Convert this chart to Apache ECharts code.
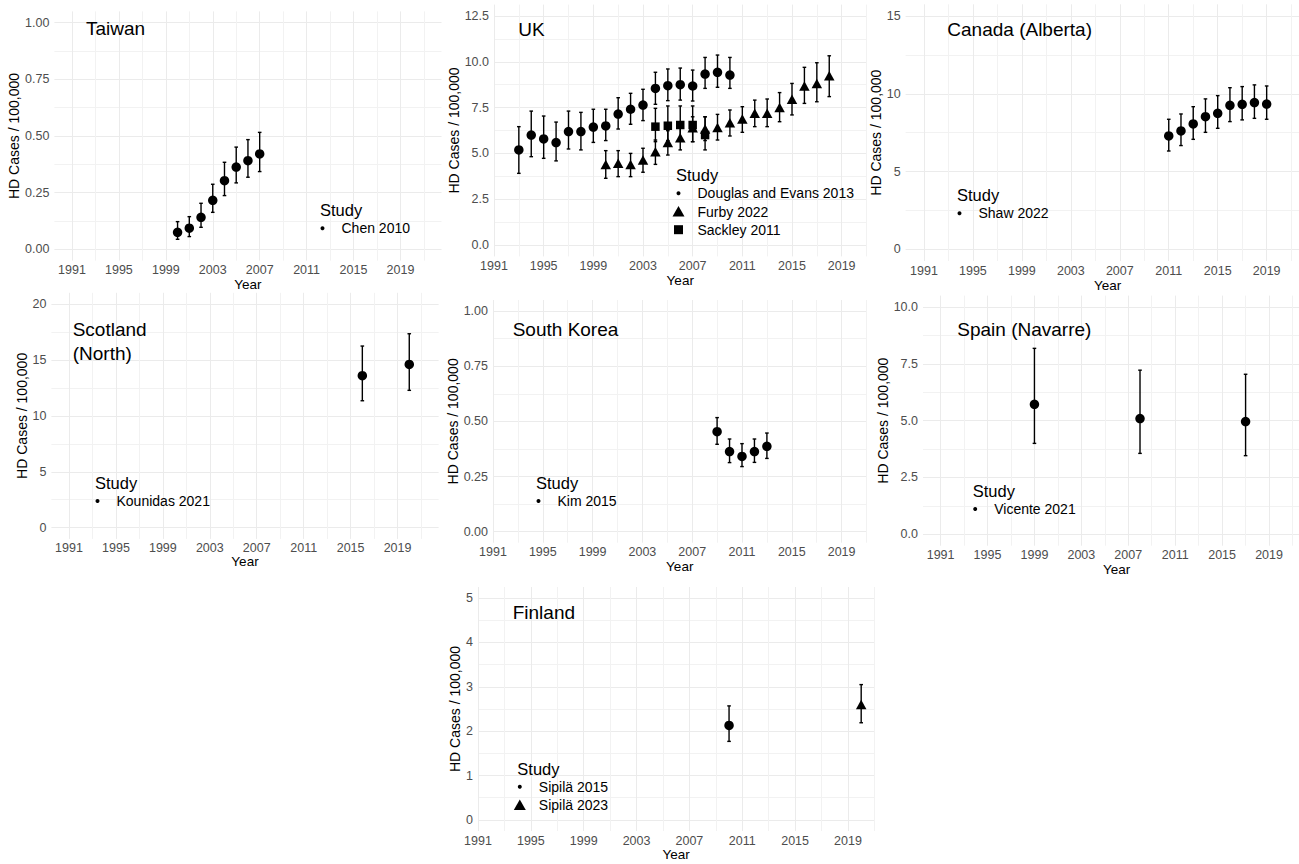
<!DOCTYPE html>
<html>
<head>
<meta charset="utf-8">
<script src="https://cdn.jsdelivr.net/npm/echarts@6/dist/echarts.min.js"></script>
<style>
html,body{margin:0;padding:0;background:#ffffff;}
#chart{width:1299px;height:864px;}
</style>
</head>
<body>
<div id="chart"></div>
<script>
// ---------------- data ----------------
const yearTicks = [1991, 1995, 1999, 2003, 2007, 2011, 2015, 2019];
const yearMinorTicks = [1989, 1993, 1997, 2001, 2005, 2009, 2013, 2017, 2021];

const taiwanYTicks = [0, 0.25, 0.5, 0.75, 1];
const ukYTicks = [0, 2.5, 5, 7.5, 10, 12.5];
const canadaYTicks = [0, 5, 10, 15];
const scotlandYTicks = [0, 5, 10, 15, 20];
const koreaYTicks = [0, 0.25, 0.5, 0.75, 1];
const spainYTicks = [0, 2.5, 5, 7.5, 10];
const finlandYTicks = [0, 1, 2, 3, 4, 5];

// Taiwan - Chen 2010
const chenYears = [2000, 2001, 2002, 2003, 2004, 2005, 2006, 2007];
const chenRate  = [0.075, 0.093, 0.141, 0.216, 0.303, 0.363, 0.391, 0.421];
const chenLow   = [0.044, 0.056, 0.097, 0.163, 0.237, 0.293, 0.318, 0.343];
const chenHigh  = [0.122, 0.144, 0.203, 0.287, 0.384, 0.451, 0.484, 0.516];

// UK - Douglas and Evans 2013
const douglasYears = [1993, 1994, 1995, 1996, 1997, 1998, 1999, 2000, 2001, 2002, 2003, 2004, 2005, 2006, 2007, 2008, 2009, 2010];
const douglasRate  = [5.19, 6.00, 5.79, 5.59, 6.19, 6.19, 6.44, 6.50, 7.15, 7.41, 7.64, 8.55, 8.70, 8.75, 8.68, 9.33, 9.43, 9.28];
const douglasLow   = [3.91, 4.82, 4.73, 4.59, 5.24, 5.19, 5.60, 5.70, 6.33, 6.59, 6.79, 7.68, 7.88, 7.91, 7.86, 8.55, 8.61, 8.55];
const douglasHigh  = [6.46, 7.31, 7.04, 6.71, 7.31, 7.24, 7.41, 7.41, 8.04, 8.28, 8.50, 9.43, 9.61, 9.66, 9.55, 10.24, 10.37, 10.24];

// UK - Furby 2022
const furbyYears = [2000, 2001, 2002, 2003, 2004, 2005, 2006, 2007, 2008, 2009, 2010, 2011, 2012, 2013, 2014, 2015, 2016, 2017, 2018];
const furbyRate  = [4.40, 4.46, 4.39, 4.64, 5.09, 5.59, 5.86, 6.40, 6.33, 6.42, 6.68, 6.88, 7.19, 7.19, 7.51, 7.95, 8.68, 8.82, 9.24];
const furbyLow   = [3.64, 3.73, 3.73, 3.97, 4.40, 4.91, 5.19, 5.64, 5.70, 5.73, 5.95, 6.15, 6.46, 6.46, 6.73, 7.10, 7.73, 7.82, 8.10];
const furbyHigh  = [5.15, 5.15, 5.00, 5.28, 5.73, 6.24, 6.50, 7.00, 7.00, 7.13, 7.37, 7.55, 7.91, 7.97, 8.32, 8.82, 9.70, 9.95, 10.33];

// UK - Sackley 2011
const sackleyYears = [2004, 2005, 2006, 2007, 2008];
const sackleyRate  = [6.46, 6.51, 6.55, 6.55, 6.00];
const sackleyLow   = [5.64, 5.70, 5.73, 5.64, 5.19];
const sackleyHigh  = [7.46, 7.59, 7.59, 7.59, 7.00];

// Canada (Alberta) - Shaw 2022
const shawYears = [2011, 2012, 2013, 2014, 2015, 2016, 2017, 2018, 2019];
const shawRate  = [7.29, 7.61, 8.06, 8.53, 8.74, 9.26, 9.32, 9.43, 9.34];
const shawLow   = [6.32, 6.67, 7.07, 7.52, 7.78, 8.21, 8.32, 8.42, 8.36];
const shawHigh  = [8.36, 8.70, 9.17, 9.67, 9.88, 10.39, 10.46, 10.57, 10.50];

// Scotland (North) - Kounidas 2021
const kounidasYears = [2016, 2020];
const kounidasRate  = [13.59, 14.60];
const kounidasLow   = [11.35, 12.28];
const kounidasHigh  = [16.24, 17.34];

// South Korea - Kim 2015
const kimYears = [2009, 2010, 2011, 2012, 2013];
const kimRate  = [0.453, 0.363, 0.341, 0.363, 0.387];
const kimLow   = [0.396, 0.313, 0.295, 0.314, 0.332];
const kimHigh  = [0.517, 0.420, 0.399, 0.420, 0.447];

// Spain (Navarre) - Vicente 2021
const vicenteYears = [1999, 2008, 2017];
const vicenteRate  = [5.72, 5.09, 4.96];
const vicenteLow   = [4.00, 3.56, 3.46];
const vicenteHigh  = [8.18, 7.22, 7.04];

// Finland - Sipilä 2015 / Sipilä 2023
const sipila2015Years = [2010];
const sipila2015Rate  = [2.13];
const sipila2015Low   = [1.77];
const sipila2015High  = [2.57];
const sipila2023Years = [2020];
const sipila2023Rate  = [2.60];
const sipila2023Low   = [2.19];
const sipila2023High  = [3.05];

// ---------------- panels ----------------
const panels = [
  {key: 'taiwan', lines: ['Taiwan'], yTicks: taiwanYTicks, dec: 2, studies: [
    {name: 'Chen 2010', shape: 'circle', years: chenYears, rate: chenRate, low: chenLow, high: chenHigh}]},
  {key: 'uk', lines: ['UK'], yTicks: ukYTicks, dec: 1, studies: [
    {name: 'Douglas and Evans 2013', shape: 'circle', years: douglasYears, rate: douglasRate, low: douglasLow, high: douglasHigh},
    {name: 'Furby 2022', shape: 'triangle', years: furbyYears, rate: furbyRate, low: furbyLow, high: furbyHigh},
    {name: 'Sackley 2011', shape: 'square', years: sackleyYears, rate: sackleyRate, low: sackleyLow, high: sackleyHigh}]},
  {key: 'canada', lines: ['Canada (Alberta)'], yTicks: canadaYTicks, dec: 0, studies: [
    {name: 'Shaw 2022', shape: 'circle', years: shawYears, rate: shawRate, low: shawLow, high: shawHigh}]},
  {key: 'scotland', lines: ['Scotland', '(North)'], yTicks: scotlandYTicks, dec: 0, studies: [
    {name: 'Kounidas 2021', shape: 'circle', years: kounidasYears, rate: kounidasRate, low: kounidasLow, high: kounidasHigh}]},
  {key: 'korea', lines: ['South Korea'], yTicks: koreaYTicks, dec: 2, studies: [
    {name: 'Kim 2015', shape: 'circle', years: kimYears, rate: kimRate, low: kimLow, high: kimHigh}]},
  {key: 'spain', lines: ['Spain (Navarre)'], yTicks: spainYTicks, dec: 1, studies: [
    {name: 'Vicente 2021', shape: 'circle', years: vicenteYears, rate: vicenteRate, low: vicenteLow, high: vicenteHigh}]},
  {key: 'finland', lines: ['Finland'], yTicks: finlandYTicks, dec: 0, studies: [
    {name: 'Sipilä 2015', shape: 'circle', years: sipila2015Years, rate: sipila2015Rate, low: sipila2015Low, high: sipila2015High},
    {name: 'Sipilä 2023', shape: 'triangle', years: sipila2023Years, rate: sipila2023Rate, low: sipila2023Low, high: sipila2023High}]}
];

// pixel layout of each panel (plot area), axis ranges, and annotation positions
const layout = {
  taiwan:   {left: 54.4,  top: 11.4,  right: 441.5,  bottom: 260.6, xMin: 1989.5, xMax: 2022.5, yMin: -0.05,  yMax: 1.05,   yNameGap: 26, xNameGap: 17, title: [86, 28.3],    legend: [320, 210]},
  uk:       {left: 494,   top: 4.6,   right: 866.5,  bottom: 256.4, xMin: 1991,   xMax: 2021,   yMin: -0.625, yMax: 13.125, yNameGap: 30, xNameGap: 17, title: [518.3, 29.3], legend: [676, 175]},
  canada:   {left: 905.6, top: 4.3,   right: 1309.5, bottom: 261,   xMin: 1989.5, xMax: 2022.5, yMin: -0.75,  yMax: 15.75,  yNameGap: 19, xNameGap: 17, title: [947.3, 29.3], legend: [957, 195]},
  scotland: {left: 51.4,  top: 292.8, right: 438.6,  bottom: 538.9, xMin: 1989.5, xMax: 2022.5, yMin: -1,     yMax: 21,     yNameGap: 22, xNameGap: 16, title: [72.7, 329.3], legend: [95, 482.7]},
  korea:    {left: 493,   top: 300,   right: 866.5,  bottom: 542.7, xMin: 1991,   xMax: 2021,   yMin: -0.05,  yMax: 1.05,   yNameGap: 28, xNameGap: 17, title: [512.7, 329.3], legend: [536, 482.7]},
  spain:    {left: 923,   top: 295.6, right: 1310.1, bottom: 545.7, xMin: 1989.5, xMax: 2022.5, yMin: -0.5,   yMax: 10.5,   yNameGap: 31, xNameGap: 17, title: [957.3, 329.3], legend: [972.7, 490.7]},
  finland:  {left: 478,   top: 587,   right: 874.4,  bottom: 831,   xMin: 1991,   xMax: 2021,   yMin: -0.25,  yMax: 5.25,   yNameGap: 12, xNameGap: 16, title: [512.7, 612.5], legend: [517.3, 768.5]}
};

const FONT = '"Liberation Sans", Arial, Helvetica, sans-serif';
const MAJOR = '#ebebeb';
const MINOR = '#f2f2f2';

function midpoints(t) {
  const m = [];
  for (let i = 0; i < t.length - 1; i++) m.push((t[i] + t[i + 1]) / 2);
  return m;
}

const grid = [], xAxis = [], yAxis = [], series = [], graphic = [];

panels.forEach((p, i) => {
  const L = layout[p.key];
  grid.push({left: L.left, top: L.top, width: L.right - L.left, height: L.bottom - L.top,
             containLabel: false, outerBoundsMode: 'none'});
  const xi = xAxis.length, yi = yAxis.length;
  const xMinor = yearMinorTicks.filter(v => v >= L.xMin && v <= L.xMax);
  const yMinor = midpoints(p.yTicks);

  xAxis.push({
    type: 'value', gridIndex: i, min: L.xMin, max: L.xMax, position: 'bottom',
    axisLine: {show: false},
    axisTick: {show: false, customValues: yearTicks},
    axisLabel: {customValues: yearTicks, margin: 3, color: '#4d4d4d', fontSize: 12.5, fontFamily: FONT,
                formatter: v => String(v)},
    splitLine: {show: true, lineStyle: {color: MAJOR, width: 1}},
    name: 'Year', nameLocation: 'middle', nameGap: L.xNameGap, nameMoveOverlap: false,
    nameTextStyle: {color: '#000', fontSize: 13.5, fontFamily: FONT}
  });
  xAxis.push({
    type: 'value', gridIndex: i, min: L.xMin, max: L.xMax, position: 'top',
    axisLine: {show: false},
    axisTick: {show: false, customValues: xMinor},
    axisLabel: {show: false, customValues: xMinor},
    splitLine: {show: true, lineStyle: {color: MINOR, width: 1}}
  });
  yAxis.push({
    type: 'value', gridIndex: i, min: L.yMin, max: L.yMax, position: 'left',
    axisLine: {show: false},
    axisTick: {show: false, customValues: p.yTicks},
    axisLabel: {customValues: p.yTicks, margin: 5, color: '#4d4d4d', fontSize: 12.5, fontFamily: FONT,
                formatter: v => v.toFixed(p.dec)},
    splitLine: {show: true, lineStyle: {color: MAJOR, width: 1}},
    name: 'HD Cases / 100,000', nameLocation: 'middle', nameGap: L.yNameGap,
    nameTextStyle: {color: '#000', fontSize: 14, fontFamily: FONT}
  });
  yAxis.push({
    type: 'value', gridIndex: i, min: L.yMin, max: L.yMax, position: 'right',
    axisLine: {show: false},
    axisTick: {show: false, customValues: yMinor},
    axisLabel: {show: false, customValues: yMinor},
    splitLine: {show: true, lineStyle: {color: MINOR, width: 1}}
  });

  p.studies.forEach(s => {
    series.push({
      type: 'custom', name: s.name, xAxisIndex: xi, yAxisIndex: yi, silent: true, z: 2, clip: false,
      data: s.years.map((yr, k) => [yr, s.low[k], s.high[k]]),
      encode: {x: 0, y: [1, 2]},
      renderItem: (params, api) => {
        const x = api.value(0);
        const top = api.coord([x, api.value(2)]);
        const bot = api.coord([x, api.value(1)]);
        const w = 1.8;
        const st = {stroke: '#000', lineWidth: 1.4};
        return {type: 'group', children: [
          {type: 'line', shape: {x1: top[0], y1: top[1], x2: bot[0], y2: bot[1]}, style: st},
          {type: 'line', shape: {x1: top[0] - w, y1: top[1], x2: top[0] + w, y2: top[1]}, style: st},
          {type: 'line', shape: {x1: bot[0] - w, y1: bot[1], x2: bot[0] + w, y2: bot[1]}, style: st}
        ]};
      }
    });
    series.push({
      type: 'scatter', name: s.name, xAxisIndex: xi, yAxisIndex: yi, silent: true, z: 3,
      symbol: s.shape === 'square' ? 'rect' : s.shape,
      symbolSize: s.shape === 'triangle' ? [10.5, 9.5] : (s.shape === 'square' ? 8.5 : 9.5),
      itemStyle: {color: '#000', opacity: 1},
      data: s.years.map((yr, k) => [yr, s.rate[k]])
    });
  });

  // panel title (annotation)
  p.lines.forEach((t, j) => {
    graphic.push({type: 'text', x: L.title[0], y: L.title[1] + j * 24, silent: true, z: 100,
      style: {text: t, fill: '#000', font: '19px ' + FONT, align: 'left', verticalAlign: 'middle',
              textAlign: 'left', textVerticalAlign: 'middle'}});
  });

  // legend
  const lx = L.legend[0], ly = L.legend[1];
  graphic.push({type: 'text', x: lx, y: ly, silent: true, z: 100,
    style: {text: 'Study', fill: '#000', font: '16.5px ' + FONT, align: 'left', verticalAlign: 'middle',
            textAlign: 'left', textVerticalAlign: 'middle'}});
  p.studies.forEach((s, j) => {
    const cy = ly + 18.3 + j * 18.2;
    const cx = lx + 2.5;
    if (s.shape === 'circle') {
      graphic.push({type: 'circle', silent: true, z: 100, shape: {cx: cx, cy: cy, r: 2}, style: {fill: '#000'}});
    } else if (s.shape === 'triangle') {
      graphic.push({type: 'polygon', silent: true, z: 100,
        shape: {points: [[cx - 6, cy + 5], [cx + 6, cy + 5], [cx, cy - 5.5]]}, style: {fill: '#000'}});
    } else {
      graphic.push({type: 'rect', silent: true, z: 100, shape: {x: cx - 4.5, y: cy - 4.5, width: 9, height: 9}, style: {fill: '#000'}});
    }
    graphic.push({type: 'text', x: lx + 21.5, y: cy, silent: true, z: 100,
      style: {text: s.name, fill: '#000', font: '14px ' + FONT, align: 'left', verticalAlign: 'middle',
              textAlign: 'left', textVerticalAlign: 'middle'}});
  });
});

const chart = echarts.init(document.getElementById('chart'), null, {renderer: 'svg', width: 1299, height: 864});
chart.setOption({
  backgroundColor: '#ffffff',
  animation: false,
  grid: grid,
  xAxis: xAxis,
  yAxis: yAxis,
  series: series,
  graphic: graphic
});
</script>
</body>
</html>
